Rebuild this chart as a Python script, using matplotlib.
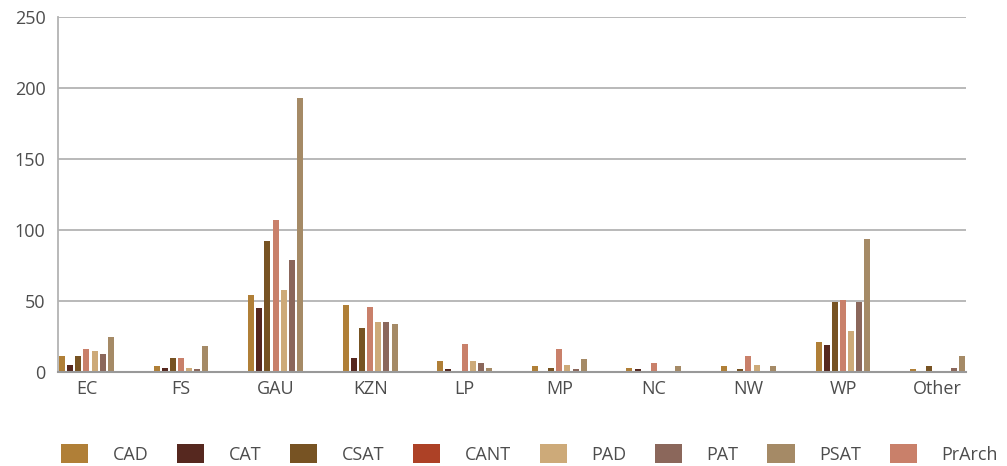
import numpy as np
import matplotlib
matplotlib.use('Agg')
import matplotlib.pyplot as plt
from matplotlib.patches import Patch

regions = ['EC', 'FS', 'GAU', 'KZN', 'LP', 'MP', 'NC', 'NW', 'WP', 'Other']

# values per series, one per region
cad    = [11, 4, 54, 47, 8, 4, 3, 4, 21, 2]
cat    = [5, 3, 45, 10, 2, 1, 2, 1, 19, 0]
csat   = [11, 10, 92, 31, 0, 3, 1, 2, 49, 4]
cant   = [0, 0, 0, 0, 0, 0, 0, 0, 0, 0]
pad    = [15, 3, 58, 35, 8, 5, 0, 5, 29, 0]
pat    = [13, 2, 79, 35, 6, 2, 0, 0, 49, 3]
psat   = [25, 18, 193, 34, 3, 9, 4, 4, 94, 11]
prarch = [16, 10, 107, 46, 20, 16, 6, 11, 51, 0]

colors = {
    'CAD': '#b07f37', 'CAT': '#56281f', 'CSAT': '#775323', 'CANT': '#ad4126',
    'PAD': '#cdaa79', 'PAT': '#8b675b', 'PSAT': '#a58a66', 'PrArch': '#c9806a',
}

# bar slot order inside each group (CANT has no bars)
slots = [('CAD', cad), ('CAT', cat), ('CSAT', csat), ('PrArch', prarch),
         ('PAD', pad), ('PAT', pat), ('PSAT', psat)]
legend_order = ['CAD', 'CAT', 'CSAT', 'CANT', 'PAD', 'PAT', 'PSAT', 'PrArch']

plt.rcParams['font.family'] = ['Open Sans', 'DejaVu Sans']
text_col = '#4d4d4d'

fig = plt.figure(figsize=(10.07, 4.66), dpi=100)
ax = fig.add_axes([58 / 1007, 1 - 372 / 466, 908 / 1007, 355 / 466])

x = np.arange(len(regions))
span = 0.6016
slot_w = span / len(slots)
bar_w = slot_w * 0.74
for k, (name, vals) in enumerate(slots):
    offs = -span / 2 + slot_w * (k + 0.5)
    ax.bar(x + offs, vals, width=bar_w, color=colors[name], zorder=3)

ax.set_xlim(-span / 2, len(regions) - 1 + span / 2)
ax.set_ylim(0, 250)
ax.set_yticks([0, 50, 100, 150, 200, 250])
ax.set_xticks(x)
ax.set_xticklabels(regions)
ax.tick_params(axis='both', length=0, labelsize=13, colors=text_col)
ax.tick_params(axis='y', pad=9)
ax.tick_params(axis='x', pad=6)
ax.yaxis.grid(True, color='#b3b3b3', linewidth=1.3, zorder=0)
ax.set_axisbelow(True)
for s in ['top', 'right']:
    ax.spines[s].set_visible(False)
ax.spines['left'].set_color('#b3b3b3')
ax.spines['left'].set_linewidth(1.3)
ax.spines['bottom'].set_color('#999999')
ax.spines['bottom'].set_linewidth(1.5)
ax.spines['bottom'].set_zorder(4)

handles = [Patch(facecolor=colors[n], label=n) for n in legend_order]
fig.legend(handles=handles, loc='lower left', bbox_to_anchor=(45 / 1007, -0.03),
           ncol=8, frameon=False, fontsize=13, labelcolor=text_col,
           handlelength=1.5, handleheight=1.25, handletextpad=1.35,
           columnspacing=1.6)

fig.savefig('out.png', dpi=100, facecolor='white')
